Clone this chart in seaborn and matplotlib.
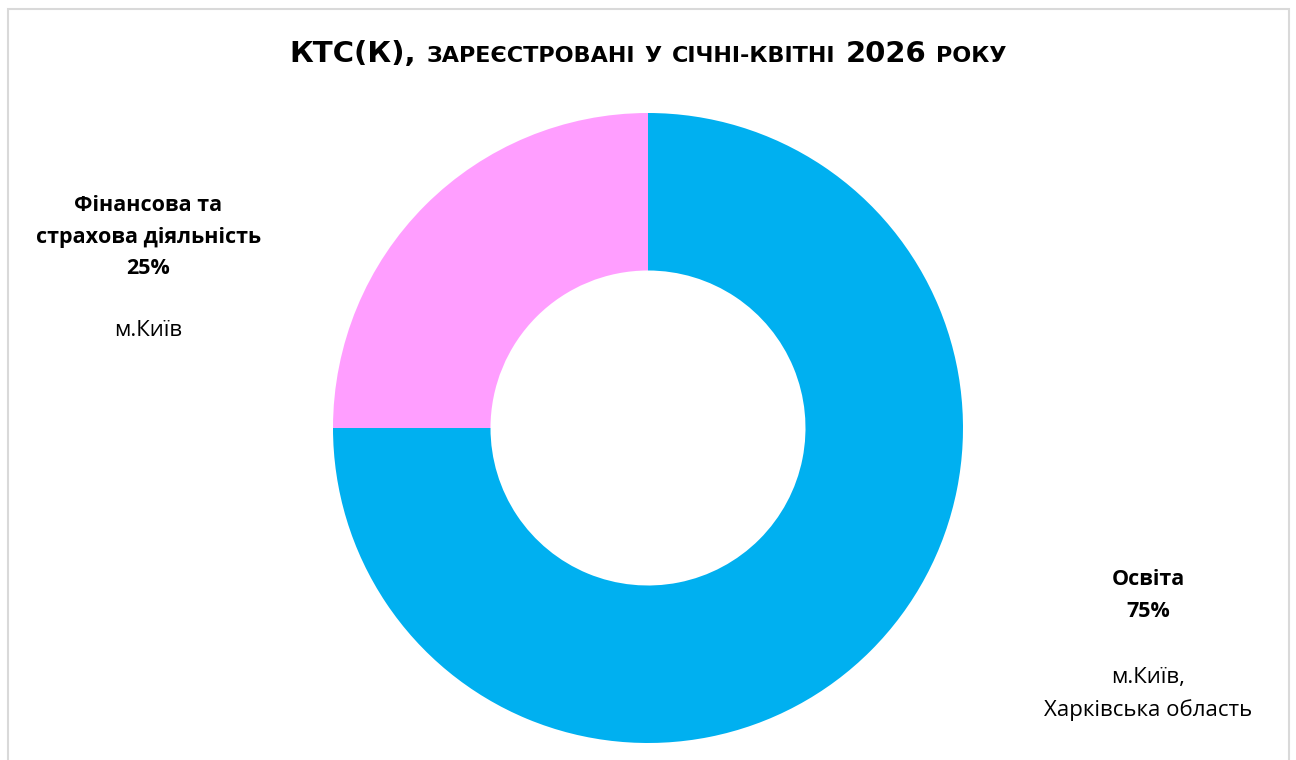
import matplotlib.pyplot as plt
import seaborn as sns
from matplotlib.patches import Rectangle

# data
sectors = ['Освіта', 'Фінансова та\nстрахова діяльність']
shares = [75, 25]
regions = ['м.Київ,\nХарківська область', 'м.Київ']
colors = ['#00B0F0', '#FF9EFF']

title_words = [('КТС(К),', 'big'), ('ЗАРЕЄСТРОВАНІ', 'small'), ('У', 'small'),
               ('СІЧНІ-КВІТНІ', 'small'), ('2026', 'big'), ('РОКУ', 'small')]

sns.set_theme(style='white')
plt.rcParams['font.family'] = ['Open Sans', 'DejaVu Sans']

W, H = 1296, 760
fig = plt.figure(figsize=(W / 100, H / 100), dpi=100)
fig.patch.set_facecolor('white')

# donut
ax = fig.add_axes([333 / W, 17 / H, 630 / W, 630 / H])
ax.pie(shares, colors=colors, startangle=90, counterclock=False, radius=1,
       wedgeprops=dict(width=0.5, linewidth=0))
ax.set_xlim(-1, 1)
ax.set_ylim(-1, 1)
ax.axis('off')

# labels (data coords of the pie axes)
label_pos = [(1.587, -0.533, -0.844), (-1.587, 0.606, 0.311)]
for sector, share, region, (x, y1, y2) in zip(sectors, shares, regions, label_pos):
    ax.text(x, y1, f'{sector}\n{share}%', ha='center', va='center', fontsize=15.5,
            fontweight='bold', color='black', linespacing=1.68, clip_on=False)
    ax.text(x, y2, region, ha='center', va='center', fontsize=16,
            color='black', linespacing=1.63, clip_on=False)

# title: wide caps, big and small sizes
renderer = fig.canvas.get_renderer()
sizes = {'big': 21, 'small': 16}
texts = [fig.text(0, 1 - 62 / H, s, fontsize=sizes[k], fontweight='bold',
                  family='DejaVu Sans', ha='left', va='baseline', color='black')
         for s, k in title_words]
gap = 10
widths = [t.get_window_extent(renderer).width for t in texts]
x = W / 2 - (sum(widths) + gap * (len(widths) - 1)) / 2
for t, w in zip(texts, widths):
    t.set_x(x / W)
    x += w + gap

# chart border
fig.patches.append(Rectangle((7.5 / W, -0.05), (1288.5 - 7.5) / W, 1.05 - 9.5 / H,
                             transform=fig.transFigure, fill=False,
                             edgecolor='#D9D9D9', linewidth=1.5))

fig.savefig('out.png', dpi=100)
